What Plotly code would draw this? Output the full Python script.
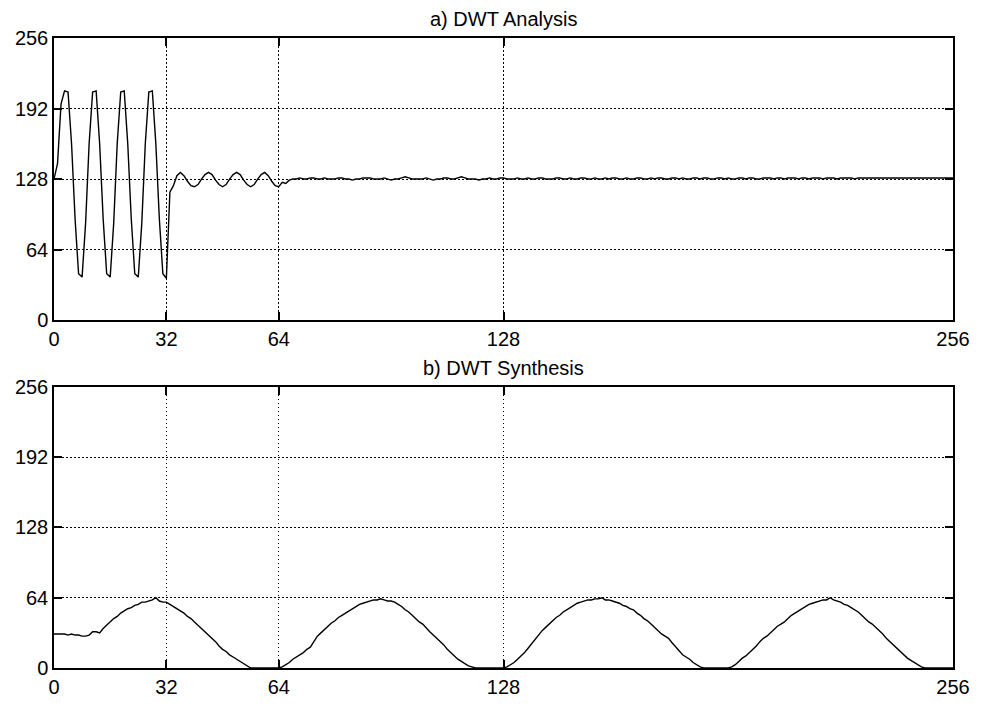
import plotly.graph_objects as go
from plotly.subplots import make_subplots

# ---- data ----
tick_vals = [0, 32, 64, 128, 256]
y_tick_vals = [0, 64, 128, 192, 256]
title_a = "a) DWT Analysis"
title_b = "b) DWT Synthesis"

analysis_head = [
    128, 142, 196, 208, 207, 160, 92, 42,
    39, 88, 160, 207, 208, 160, 92, 42,
    39, 88, 160, 207, 208, 160, 92, 42,
    39, 88, 160, 207, 208, 160, 92, 42,
    38, 116, 122, 131, 134, 131, 126, 122,
    121, 123, 128, 132, 134, 132, 127, 123,
    121, 123, 128, 132, 134, 132, 127, 123,
    121, 123, 128, 132, 134, 131, 126, 122,
    121,
]
analysis_tail = [
    125, 124, 127, 128, 128, 129, 128, 128, 129, 129,
    128, 128, 129, 128, 128, 128, 129, 129, 128, 128,
    127, 128, 128, 129, 129, 129, 128, 128, 128, 129,
    128, 127, 128, 128, 129, 130, 129, 128, 128, 128,
    128, 129, 128, 127, 128, 128, 129, 129, 128, 128,
    129, 130, 129, 128, 128, 128, 127, 128, 128, 129,
    128, 128, 129, 129, 128, 128, 128, 129, 128, 128,
    129, 128, 128, 129, 129, 128, 128, 128, 129, 129,
    128, 128, 129, 128, 128, 129, 129, 128, 128, 129,
    128, 128, 129, 128, 129, 129, 128, 128, 129, 128,
    128, 129, 129, 128, 128, 129, 128, 129, 129, 128,
    128, 129, 129, 128, 129, 128, 128, 129, 129, 128,
    129, 129, 128, 128, 129, 129, 128, 129, 128, 128,
    129, 129, 128, 129, 129, 128, 128, 129, 129, 129,
    128, 129, 129, 128, 129, 129, 129, 128, 129, 129,
    128, 129, 129, 129, 128, 129, 129, 129, 128, 129,
    129, 129, 129, 128, 129, 129, 129, 129, 129, 129,
    129, 129, 129, 129, 129, 129, 129, 129, 129, 129,
    129, 129, 129, 129, 129, 129, 129, 129, 129, 129,
    129, 129,
]
analysis = analysis_head + analysis_tail

synthesis = [
    31, 31, 31, 31, 30, 31, 30, 30, 29, 29,
    30, 33, 33, 32, 36, 39, 42, 45, 47, 50,
    52, 54, 55, 57, 58, 60, 60, 61, 62, 64,
    61, 60, 60, 58, 56, 54, 52, 50, 47, 45,
    42, 39, 36, 33, 30, 27, 24, 20, 17, 15,
    12, 10, 8, 6, 4, 2, 0, 0, 0, 0,
    0, 0, 0, 0, 0, 1, 3, 5, 8, 10,
    12, 14, 17, 19, 24, 29, 32, 35, 38, 41,
    43, 46, 48, 50, 52, 54, 56, 58, 59, 60,
    61, 62, 62, 63, 62, 61, 61, 60, 58, 56,
    53, 51, 48, 45, 42, 40, 36, 33, 30, 27,
    24, 21, 17, 14, 11, 8, 6, 4, 2, 1,
    0, 0, 0, 0, 0, 0, 0, 0, 0, 1,
    3, 5, 8, 11, 14, 18, 22, 27, 30, 34,
    37, 40, 43, 46, 48, 51, 53, 55, 57, 59,
    60, 61, 62, 62, 63, 63, 64, 62, 62, 61,
    60, 59, 57, 56, 54, 53, 50, 48, 45, 43,
    40, 37, 34, 31, 29, 27, 23, 19, 15, 12,
    10, 8, 5, 3, 1, 0, 0, 0, 0, 0,
    0, 0, 0, 1, 3, 6, 9, 11, 14, 17,
    20, 24, 27, 29, 32, 35, 38, 40, 42, 45,
    48, 50, 52, 54, 56, 58, 59, 60, 61, 62,
    62, 64, 62, 61, 60, 58, 57, 55, 53, 51,
    48, 45, 42, 40, 37, 34, 31, 27, 24, 21,
    18, 15, 12, 9, 7, 5, 3, 1, 0, 0,
    0, 0, 0, 0, 0, 0, 0,
]

x_analysis = list(range(len(analysis)))
x_synthesis = list(range(len(synthesis)))

W, H = 982, 710
plot_left, plot_right = 54, 962
top_top, top_bot = 38, 325
bot_top, bot_bot = 393, 679
ML, MR, MT, MB = plot_left, W - plot_right, top_top, H - bot_bot
ph = H - MT - MB
top_dom = [(H - MB - top_bot) / ph, 1.0]
bot_dom = [0.0, (H - MB - bot_top) / ph]

fig = make_subplots(rows=2, cols=1)
fig.add_trace(go.Scatter(x=x_analysis, y=analysis, mode="lines",
                         line=dict(color="black", width=1.4), showlegend=False,
                         hoverinfo="skip"),
              row=1, col=1)
fig.add_trace(go.Scatter(x=x_synthesis, y=synthesis, mode="lines",
                         line=dict(color="black", width=1.4), showlegend=False,
                         hoverinfo="skip"),
              row=2, col=1)

font_family = "Liberation Sans, Arial, Helvetica, sans-serif"
axis_common = dict(
    showline=True, linecolor="black", linewidth=1.5, mirror="ticks",
    ticks="inside", ticklen=8, tickcolor="black", tickwidth=1.5,
    showgrid=True, gridcolor="black", gridwidth=1, griddash="1.5px,2.5px",
    zeroline=False, range=[0, 256],
    tickfont=dict(family=font_family, size=20, color="black"),
)
fig.update_xaxes(**axis_common, tickvals=tick_vals, ticktext=[str(v) for v in tick_vals])
fig.update_yaxes(**axis_common, tickvals=y_tick_vals, ticktext=[str(v) for v in y_tick_vals])
fig.update_layout(
    yaxis=dict(domain=top_dom), yaxis2=dict(domain=bot_dom),
    width=W, height=H,
    margin=dict(l=ML, r=MR, t=MT, b=MB),
    paper_bgcolor="white", plot_bgcolor="white",
    showlegend=False,
    annotations=[
        dict(text=title_a, xref="paper", yref="paper", x=0.5, y=top_dom[1],
             yanchor="bottom", xanchor="center", yshift=6, showarrow=False,
             font=dict(family=font_family, size=20, color="black")),
        dict(text=title_b, xref="paper", yref="paper", x=0.5, y=bot_dom[1],
             yanchor="bottom", xanchor="center", yshift=6, showarrow=False,
             font=dict(family=font_family, size=20, color="black")),
    ],
)

fig.write_html(
    "out.html",
    config={"displayModeBar": False},
    post_script="document.body.style.margin='0';document.body.style.overflow='hidden';",
)
